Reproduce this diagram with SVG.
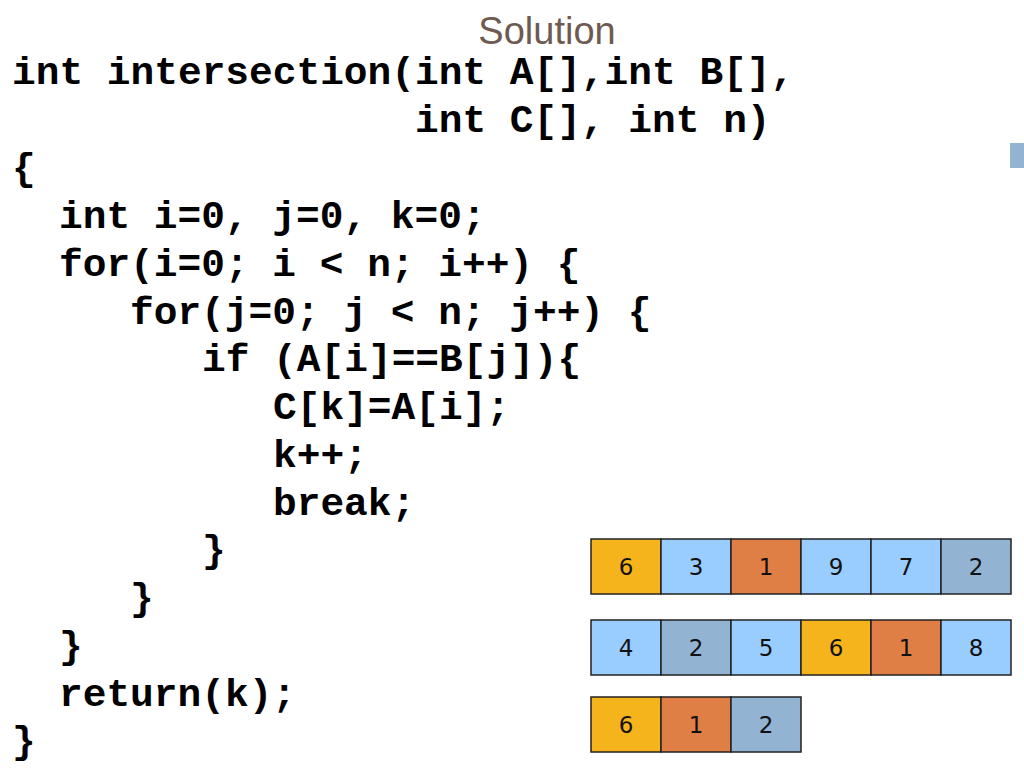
<svg xmlns="http://www.w3.org/2000/svg" width="1024" height="768" viewBox="0 0 1024 768">
<style>
.code{font-family:"Liberation Mono","Courier New",monospace;font-weight:bold;font-size:39.5px;fill:#000}
.c rect{stroke:#222;stroke-width:1.5}
.c text{font-family:"DejaVu Sans",Verdana,sans-serif;font-size:23px;fill:#111;text-anchor:middle}
.y{fill:#F6B41C}.b{fill:#99CCFF}.o{fill:#E07F45}.g{fill:#93B3D2}
</style>
<rect width="1024" height="768" fill="#fff"/>
<rect x="1010" y="143" width="14" height="25" fill="#93B3D2"/>
<text x="547" y="44" text-anchor="middle" font-family="'Liberation Sans',sans-serif" font-size="38" fill="#6E5A50">Solution</text>
<g id="code" class="code">
<text x="12" y="84">int intersection(int A[],int B[],</text>
<text x="415" y="132">int C[], int n)</text>
<text x="12" y="180">{</text>
<text x="59" y="228">int i=0, j=0, k=0;</text>
<text x="59" y="276">for(i=0; i &lt; n; i++) {</text>
<text x="130" y="324">for(j=0; j &lt; n; j++) {</text>
<text x="202" y="371">if (A[i]==B[j]){</text>
<text x="273" y="419">C[k]=A[i];</text>
<text x="273" y="467">k++;</text>
<text x="273" y="515">break;</text>
<text x="202" y="562">}</text>
<text x="130" y="610">}</text>
<text x="59" y="658">}</text>
<text x="59" y="706">return(k);</text>
<text x="12" y="753">}</text>
</g>
<g id="arrayA" class="c">
<rect class="y" x="591" y="539" width="70" height="55"/><text x="626" y="575">6</text>
<rect class="b" x="661" y="539" width="70" height="55"/><text x="696" y="575">3</text>
<rect class="o" x="731" y="539" width="70" height="55"/><text x="766" y="575">1</text>
<rect class="b" x="801" y="539" width="70" height="55"/><text x="836" y="575">9</text>
<rect class="b" x="871" y="539" width="70" height="55"/><text x="906" y="575">7</text>
<rect class="g" x="941" y="539" width="70" height="55"/><text x="976" y="575">2</text>
</g>
<g id="arrayB" class="c">
<rect class="b" x="591" y="620" width="70" height="55"/><text x="626" y="656">4</text>
<rect class="g" x="661" y="620" width="70" height="55"/><text x="696" y="656">2</text>
<rect class="b" x="731" y="620" width="70" height="55"/><text x="766" y="656">5</text>
<rect class="y" x="801" y="620" width="70" height="55"/><text x="836" y="656">6</text>
<rect class="o" x="871" y="620" width="70" height="55"/><text x="906" y="656">1</text>
<rect class="b" x="941" y="620" width="70" height="55"/><text x="976" y="656">8</text>
</g>
<g id="arrayC" class="c">
<rect class="y" x="591" y="697" width="70" height="55"/><text x="626" y="733">6</text>
<rect class="o" x="661" y="697" width="70" height="55"/><text x="696" y="733">1</text>
<rect class="g" x="731" y="697" width="70" height="55"/><text x="766" y="733">2</text>
</g>
</svg>
